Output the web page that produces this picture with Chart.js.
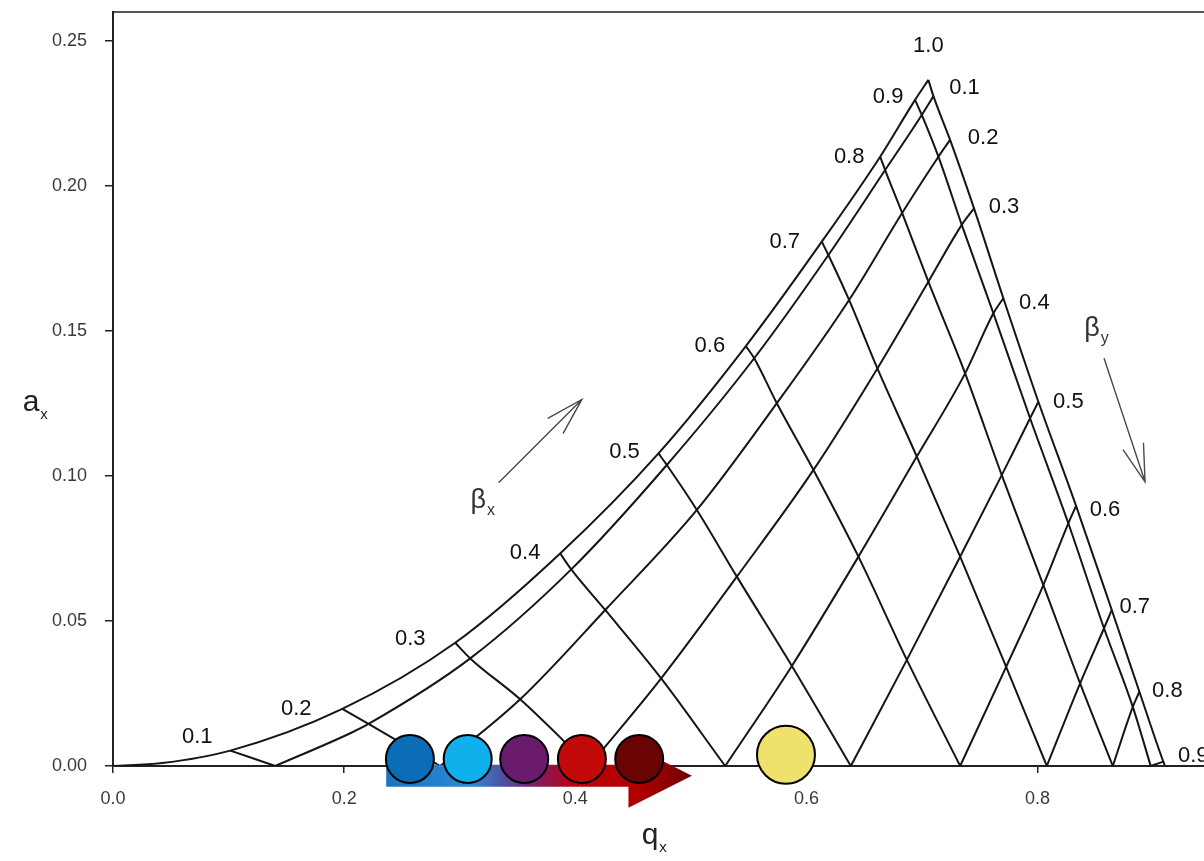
<!DOCTYPE html>
<html>
<head>
<meta charset="utf-8">
<title>Stability diagram — a_x vs q_x</title>
<script src="https://cdn.jsdelivr.net/npm/chart.js@4.4.1/dist/chart.umd.min.js"></script>
<style>
    html, body { margin: 0; padding: 0; background: #fff; }
    #wrap { width: 1204px; height: 861px; }
</style>
</head>
<body>
<div id="wrap"><canvas id="chart" width="1204" height="861"></canvas></div>
<script>
// ── Axis ticks ────────────────────────────────────────────────────────────────
const X_TICKS = [0.0, 0.2, 0.4, 0.6, 0.8];
const Y_TICKS = [0.00, 0.05, 0.10, 0.15, 0.20, 0.25];

// ── Stability boundaries ──────────────────────────────────────────────────────
// left edge: beta_y = 0, from the origin up to the apex
const LEFT_EDGE_Q = [0, 0.0424, 0.1015, 0.1984, 0.2961, 0.3869, 0.4720, 0.5476, 0.6133, 0.6638, 0.6940, 0.7055];
const LEFT_EDGE_A = [0, 0.0010, 0.0053, 0.0197, 0.0425, 0.0733, 0.1078, 0.1448, 0.1808, 0.2101, 0.2297, 0.2366];
// right edge: beta_x = 1, from the apex down to the q axis
const RIGHT_EDGE_Q = [0.7055, 0.7099, 0.7243, 0.7450, 0.7704, 0.8007, 0.8333, 0.8642, 0.8881, 0.9088, 0.9103];
const RIGHT_EDGE_A = [0.2366, 0.2310, 0.2159, 0.1923, 0.1613, 0.1256, 0.0897, 0.0538, 0.0256, 0.0015, 0];

// ── Iso-beta_x lines 0.1 … 0.9 (left edge → q axis) ──────────────────────────
const BETA_X_LABELS = ['0.1', '0.2', '0.3', '0.4', '0.5', '0.6', '0.7', '0.8', '0.9'];
const BETA_X_Q = [
    [0.1015, 0.1404],
    [0.1984, 0.2211, 0.2831],
    [0.2961, 0.3091, 0.3523, 0.4120],
    [0.3869, 0.3965, 0.4259, 0.4743, 0.5297],
    [0.4720, 0.4792, 0.5052, 0.5398, 0.5874, 0.6384],
    [0.5476, 0.5548, 0.5744, 0.6061, 0.6450, 0.6869, 0.7330],
    [0.6133, 0.6190, 0.6369, 0.6614, 0.6955, 0.7330, 0.7728, 0.8080],
    [0.6638, 0.6681, 0.6828, 0.7055, 0.7373, 0.7690, 0.8050, 0.8368, 0.8651],
    [0.6940, 0.6998, 0.7142, 0.7344, 0.7618, 0.7935, 0.8266, 0.8575, 0.8824, 0.8979],
];
const BETA_X_A = [
    [0.0053, 0],
    [0.0197, 0.0145, 0],
    [0.0425, 0.0371, 0.0230, 0],
    [0.0733, 0.0678, 0.0538, 0.0302, 0],
    [0.1078, 0.1038, 0.0883, 0.0653, 0.0345, 0],
    [0.1448, 0.1406, 0.1251, 0.1021, 0.0722, 0.0366, 0],
    [0.1808, 0.1762, 0.1607, 0.1371, 0.1067, 0.0722, 0.0342, 0],
    [0.2101, 0.2055, 0.1907, 0.1670, 0.1354, 0.1003, 0.0624, 0.0285, 0],
    [0.2297, 0.2245, 0.2101, 0.1866, 0.1561, 0.1199, 0.0837, 0.0475, 0.0204, 0],
];
const APEX_LABEL = '1.0';

// ── Iso-beta_y lines 0.1 … 0.9 (q axis → right edge) ─────────────────────────
const BETA_Y_LABELS = ['0.1', '0.2', '0.3', '0.4', '0.5', '0.6', '0.7', '0.8', '0.9'];
const BETA_Y_Q = [
    [0.1404, 0.2053, 0.2211, 0.3091, 0.3965, 0.4792, 0.5548, 0.6190, 0.6681, 0.6998, 0.7099],
    [0.2831, 0.3523, 0.4259, 0.5052, 0.5744, 0.6369, 0.6828, 0.7142, 0.7243],
    [0.4120, 0.4743, 0.5398, 0.6061, 0.6614, 0.7055, 0.7344, 0.7450],
    [0.5297, 0.5874, 0.6450, 0.6955, 0.7373, 0.7618, 0.7704],
    [0.6384, 0.6869, 0.7330, 0.7690, 0.7935, 0.8007],
    [0.7330, 0.7728, 0.8050, 0.8266, 0.8333],
    [0.8080, 0.8368, 0.8575, 0.8642],
    [0.8651, 0.8824, 0.8881],
    [0.8979, 0.9088],
];
const BETA_Y_A = [
    [0, 0.0113, 0.0145, 0.0371, 0.0678, 0.1038, 0.1406, 0.1762, 0.2055, 0.2245, 0.2310],
    [0, 0.0230, 0.0538, 0.0883, 0.1251, 0.1607, 0.1907, 0.2101, 0.2159],
    [0, 0.0302, 0.0653, 0.1021, 0.1371, 0.1670, 0.1866, 0.1923],
    [0, 0.0345, 0.0722, 0.1067, 0.1354, 0.1561, 0.1613],
    [0, 0.0366, 0.0722, 0.1003, 0.1199, 0.1256],
    [0, 0.0342, 0.0624, 0.0837, 0.0897],
    [0, 0.0285, 0.0475, 0.0538],
    [0, 0.0204, 0.0256],
    [0, 0.0015],
];

// ── Coloured markers sitting on the q axis ────────────────────────────────────
const MARKER_Q = [0.2569, 0.3069, 0.3558, 0.4057, 0.4553, 0.5823];
const MARKER_A = [0.0024, 0.0024, 0.0024, 0.0024, 0.0024, 0.0039];

// ── Styles ────────────────────────────────────────────────────────────────────
const FONT = "'Liberation Sans', Arial, sans-serif";
const LINE_COLOR = '#151515';
const MARKER_COLORS = ['#0B6DB8', '#0FB0EC', '#6A1B6E', '#C20A0A', '#6A0404', '#EEE26C'];
const MARKER_RADII = [24, 24, 24, 24, 24, 29];

// pixel offsets of the beta labels from the line ends they belong to
const LEFT_LABEL_OFFSETS = [[-33, -14], [-46, 0], [-45, -4], [-35, 0], [-34, -1], [-36, 0], [-37, 0], [-31, 0], [-27, -3]];
const APEX_LABEL_OFFSET = [0, -34];
const RIGHT_LABEL_OFFSETS = [[31, -8], [33, -2], [30, -1], [31, 5], [30, 0], [29, 4], [23, -3], [28, -1], [30, -6]];

// annotation arrows, in data units
const BETA_X_ARROW = { from: [0.3336, 0.0977], to: [0.4057, 0.1264], text: [0.3160, 0.0917] };
const BETA_Y_ARROW = { from: [0.8575, 0.1406], to: [0.8930, 0.0980], text: [0.8471, 0.1510] };
const TREND_ARROW = { start: 0.2364, headBase: 0.446, tip: 0.5009, a: -0.0034 };

// ── Helpers ───────────────────────────────────────────────────────────────────
const toPoints = (qs, as) => qs.map((q, i) => ({ x: q, y: as[i] }));

const lineDataset = (qs, as) => ({
    data: toPoints(qs, as),
    showLine: true,
    pointRadius: 0,
    borderColor: LINE_COLOR,
    borderWidth: 2,
    cubicInterpolationMode: 'monotone',
    fill: false,
});

function drawSubscripted(ctx, main, sub, x, y, mainSize, subSize, color) {
    ctx.save();
    ctx.fillStyle = color;
    ctx.textBaseline = 'middle';
    ctx.textAlign = 'center';
    ctx.font = `${mainSize}px ${FONT}`;
    ctx.fillText(main, x, y);
    const w = ctx.measureText(main).width;
    ctx.textAlign = 'left';
    ctx.font = `${subSize}px ${FONT}`;
    ctx.fillText(sub, x + w / 2 + 1, y + mainSize * 0.38);
    ctx.restore();
}

function drawOpenArrow(ctx, x1, y1, x2, y2) {
    const back = Math.atan2(y1 - y2, x1 - x2);
    const len = 39, spread = 0.28;
    ctx.beginPath();
    ctx.moveTo(x1, y1);
    ctx.lineTo(x2, y2);
    ctx.moveTo(x2 + len * Math.cos(back - spread), y2 + len * Math.sin(back - spread));
    ctx.lineTo(x2, y2);
    ctx.lineTo(x2 + len * Math.cos(back + spread), y2 + len * Math.sin(back + spread));
    ctx.stroke();
}

// ── Plugin: frame, labels, annotation arrows ──────────────────────────────────
const annotate = {
    id: 'annotate',

    // gradient arrow goes under the coloured markers (dataset 0)
    beforeDatasetDraw(chart, args) {
        if (args.index !== 0) return;
        const { ctx, scales: { x, y } } = chart;
        const x0 = x.getPixelForValue(TREND_ARROW.start);
        const xb = x.getPixelForValue(TREND_ARROW.headBase);
        const xt = x.getPixelForValue(TREND_ARROW.tip);
        const yc = y.getPixelForValue(TREND_ARROW.a);
        const grad = ctx.createLinearGradient(x0, 0, xt, 0);
        grad.addColorStop(0, '#1a72c2');
        grad.addColorStop(0.28, '#2c8ad4');
        grad.addColorStop(0.46, '#6c2478');
        grad.addColorStop(0.62, '#c0000c');
        grad.addColorStop(0.82, '#b00000');
        grad.addColorStop(1, '#720000');
        ctx.save();
        ctx.fillStyle = grad;
        ctx.beginPath();
        ctx.moveTo(x0, yc - 11);
        ctx.lineTo(xb, yc - 11);
        ctx.lineTo(xb, yc - 32);
        ctx.lineTo(xt, yc);
        ctx.lineTo(xb, yc + 32);
        ctx.lineTo(xb, yc + 11);
        ctx.lineTo(x0, yc + 11);
        ctx.closePath();
        ctx.fill();
        ctx.restore();
    },

    afterDatasetsDraw(chart) {
        const { ctx, chartArea, scales: { x, y } } = chart;
        const px = (q) => x.getPixelForValue(q);
        const py = (a) => y.getPixelForValue(a);

        ctx.save();

        // top frame line
        ctx.strokeStyle = '#222';
        ctx.lineWidth = 1.5;
        ctx.beginPath();
        ctx.moveTo(chartArea.left, chartArea.top);
        ctx.lineTo(chartArea.right, chartArea.top);
        ctx.stroke();

        // beta labels
        ctx.fillStyle = '#111';
        ctx.font = `22px ${FONT}`;
        ctx.textAlign = 'center';
        ctx.textBaseline = 'middle';
        BETA_X_LABELS.forEach((label, i) => {
            const [dx, dy] = LEFT_LABEL_OFFSETS[i];
            ctx.fillText(label, px(BETA_X_Q[i][0]) + dx, py(BETA_X_A[i][0]) + dy);
        });
        ctx.fillText(APEX_LABEL, px(RIGHT_EDGE_Q[0]) + APEX_LABEL_OFFSET[0], py(RIGHT_EDGE_A[0]) + APEX_LABEL_OFFSET[1]);
        BETA_Y_LABELS.forEach((label, i) => {
            const last = BETA_Y_Q[i].length - 1;
            const [dx, dy] = RIGHT_LABEL_OFFSETS[i];
            ctx.fillText(label, px(BETA_Y_Q[i][last]) + dx, py(BETA_Y_A[i][last]) + dy);
        });

        // direction arrows
        ctx.strokeStyle = '#4a4a4a';
        ctx.lineWidth = 1.4;
        [BETA_X_ARROW, BETA_Y_ARROW].forEach((arr) => {
            drawOpenArrow(ctx, px(arr.from[0]), py(arr.from[1]), px(arr.to[0]), py(arr.to[1]));
        });
        drawSubscripted(ctx, 'β', 'x', px(BETA_X_ARROW.text[0]), py(BETA_X_ARROW.text[1]), 27, 16, '#333');
        drawSubscripted(ctx, 'β', 'y', px(BETA_Y_ARROW.text[0]), py(BETA_Y_ARROW.text[1]), 27, 16, '#333');

        // axis titles
        drawSubscripted(ctx, 'a', 'x', 31, 403, 30, 15, '#222');
        drawSubscripted(ctx, 'q', 'x', 650, 836, 30, 15, '#222');

        ctx.restore();
    },
};

// ── Chart ─────────────────────────────────────────────────────────────────────
const datasets = [
    {
        data: toPoints(MARKER_Q, MARKER_A),
        showLine: false,
        pointRadius: MARKER_RADII,
        pointHoverRadius: MARKER_RADII,
        pointBackgroundColor: MARKER_COLORS,
        pointBorderColor: '#000',
        pointBorderWidth: 2,
        clip: false,
    },
    lineDataset(LEFT_EDGE_Q, LEFT_EDGE_A),
    lineDataset(RIGHT_EDGE_Q, RIGHT_EDGE_A),
    ...BETA_X_Q.map((qs, i) => lineDataset(qs, BETA_X_A[i])),
    ...BETA_Y_Q.map((qs, i) => lineDataset(qs, BETA_Y_A[i])),
];

const TICK_FONT = { family: FONT, size: 18 };

new Chart(document.getElementById('chart'), {
    type: 'scatter',
    data: { datasets },
    plugins: [annotate],
    options: {
        responsive: false,
        animation: false,
        events: [],
        layout: { autoPadding: false, padding: { top: 12, left: 0, right: 0, bottom: 0 } },
        plugins: { legend: { display: false }, tooltip: { enabled: false } },
        scales: {
            x: {
                type: 'linear',
                min: 0,
                max: 0.944,
                afterBuildTicks: (scale) => { scale.ticks = X_TICKS.map((v) => ({ value: v })); },
                afterFit: (scale) => {
                    scale.height = 95;
                    scale.paddingLeft = 0;
                    scale.paddingRight = 0;
                },
                ticks: {
                    color: '#3a3a3a',
                    font: TICK_FONT,
                    padding: 15,
                    maxRotation: 0,
                    callback: (v) => Number(v).toFixed(1),
                },
                grid: { drawOnChartArea: false, drawTicks: true, tickLength: 7, color: '#222', lineWidth: 1.5 },
                border: { display: true, color: '#222', width: 2 },
            },
            y: {
                type: 'linear',
                min: 0,
                max: 0.26,
                afterBuildTicks: (scale) => { scale.ticks = Y_TICKS.map((v) => ({ value: v })); },
                afterFit: (scale) => {
                    scale.width = 113;
                    scale.paddingTop = 0;
                    scale.paddingBottom = 0;
                },
                ticks: {
                    color: '#3a3a3a',
                    font: TICK_FONT,
                    padding: 18,
                    callback: (v) => Number(v).toFixed(2),
                },
                grid: { drawOnChartArea: false, drawTicks: true, tickLength: 8, color: '#222', lineWidth: 1.5 },
                border: { display: true, color: '#222', width: 2 },
            },
        },
    },
});
</script>
</body>
</html>
